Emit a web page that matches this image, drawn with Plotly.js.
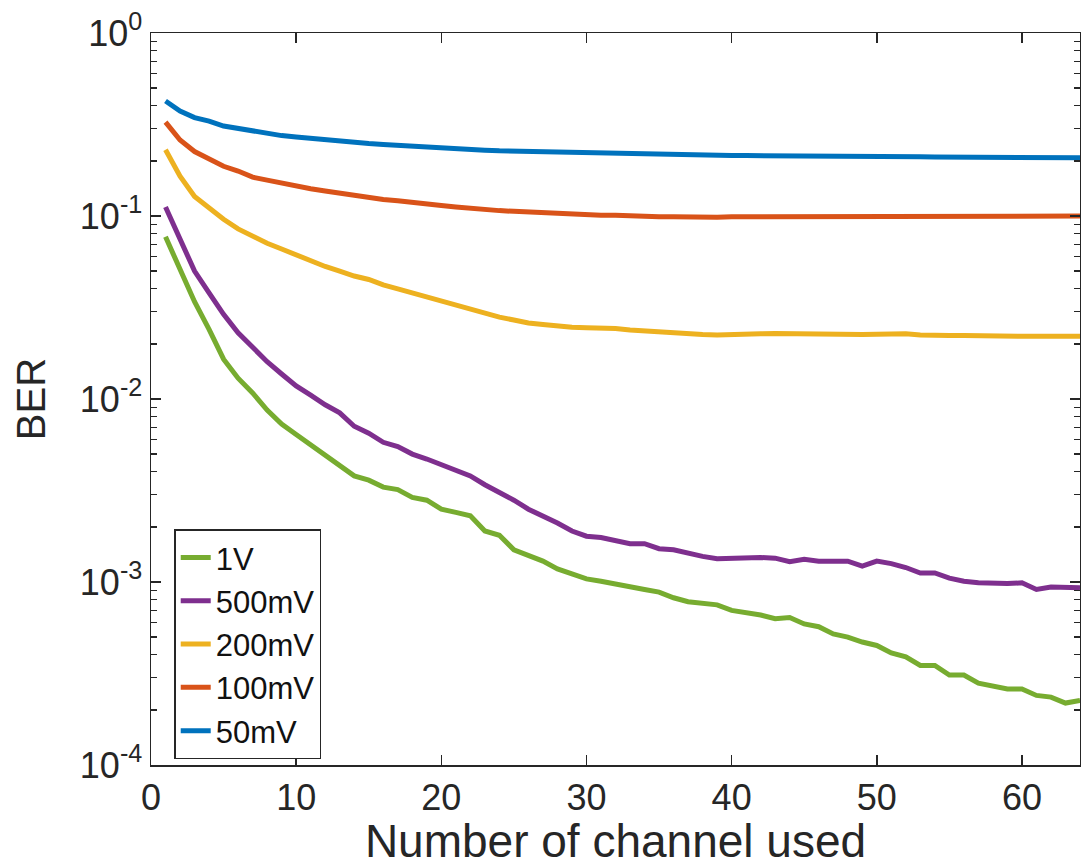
<!DOCTYPE html>
<html>
<head>
<meta charset="utf-8">
<script src="https://cdn.plot.ly/plotly-3.0.1.min.js"></script>
<style>
  html, body { margin: 0; padding: 0; background: #fff; }
  #chart { width: 1081px; height: 867px; }
</style>
</head>
<body>
<div id="chart"></div>
<script>
// Channel index
const channels = Array.from({length: 64}, (_, i) => i + 1);

const seriesNames = ["1V", "500mV", "200mV", "100mV", "50mV"];

const ber1V = [0.077, 0.052, 0.034, 0.024, 0.0165, 0.013, 0.0108, 0.0087, 0.0073, 0.0064,
  0.0056, 0.0049, 0.0043, 0.0038, 0.0036, 0.0033, 0.0032, 0.0029, 0.0028, 0.0025,
  0.0024, 0.0023, 0.0019, 0.0018, 0.0015, 0.0014, 0.0013, 0.00118, 0.0011, 0.00104,
  0.00101, 0.00098, 0.00094, 0.00091, 0.00088, 0.00082, 0.00078, 0.00077, 0.00075, 0.0007,
  0.00068, 0.00066, 0.00063, 0.00064, 0.00059, 0.00057, 0.00052, 0.0005, 0.00047, 0.00045,
  0.00041, 0.00039, 0.00035, 0.00035, 0.00031, 0.00031, 0.00028, 0.00027, 0.00026, 0.00026,
  0.00024, 0.000235, 0.000218, 0.000225];

const ber500mV = [0.112, 0.075, 0.05, 0.038, 0.029, 0.023, 0.019, 0.016, 0.0137, 0.0118,
  0.0105, 0.0093, 0.0084, 0.0071, 0.0065, 0.0058, 0.0055, 0.005, 0.0047, 0.0044,
  0.0041, 0.0038, 0.0034, 0.0031, 0.0028, 0.0025, 0.0023, 0.0021, 0.0019, 0.00178,
  0.00175, 0.00168, 0.00162, 0.00162, 0.00152, 0.0015, 0.00143, 0.00138, 0.00134, 0.00135,
  0.00135, 0.00136, 0.00135, 0.00129, 0.00133, 0.0013, 0.0013, 0.0013, 0.00122, 0.0013,
  0.00126, 0.0012, 0.00112, 0.00112, 0.00105, 0.00101, 0.00099, 0.00098, 0.00098, 0.00099,
  0.00091, 0.00094, 0.00093, 0.00093];

const ber200mV = [0.23, 0.165, 0.128, 0.11, 0.096, 0.085, 0.077, 0.071, 0.066, 0.061,
  0.057, 0.053, 0.05, 0.047, 0.045, 0.042, 0.04, 0.038, 0.036, 0.034,
  0.0325, 0.031, 0.0295, 0.028, 0.027, 0.026, 0.0255, 0.025, 0.0247, 0.0245,
  0.0245, 0.0243, 0.0238, 0.0235, 0.0232, 0.0228, 0.0226, 0.0225, 0.0224, 0.0226,
  0.0226, 0.0227, 0.0228, 0.0227, 0.0226, 0.0226, 0.0227, 0.0226, 0.0225, 0.0226,
  0.0227, 0.0227, 0.0224, 0.0222, 0.0222, 0.0222, 0.0221, 0.0221, 0.022, 0.022,
  0.022, 0.022, 0.0219, 0.022];

const ber100mV = [0.326, 0.26, 0.225, 0.205, 0.187, 0.176, 0.163, 0.157, 0.151, 0.147,
  0.141, 0.137, 0.133, 0.129, 0.126, 0.123, 0.121, 0.118, 0.116, 0.114,
  0.112, 0.11, 0.109, 0.107, 0.106, 0.105, 0.104, 0.103, 0.102, 0.102,
  0.101, 0.101, 0.1, 0.1, 0.099, 0.099, 0.0985, 0.0985, 0.0985, 0.099,
  0.099, 0.0988, 0.099, 0.0993, 0.0995, 0.0995, 0.0997, 0.0998, 0.1, 0.1,
  0.0998, 0.0997, 0.0995, 0.0995, 0.0993, 0.0995, 0.0998, 0.1, 0.1, 0.1,
  0.1, 0.1, 0.1, 0.1];

const ber50mV = [0.425, 0.375, 0.345, 0.33, 0.31, 0.3, 0.29, 0.282, 0.275, 0.27,
  0.265, 0.26, 0.256, 0.252, 0.249, 0.246, 0.243, 0.24, 0.238, 0.235,
  0.233, 0.231, 0.229, 0.227, 0.226, 0.225, 0.224, 0.223, 0.222, 0.222,
  0.221, 0.22, 0.219, 0.218, 0.217, 0.216, 0.216, 0.215, 0.215, 0.214,
  0.214, 0.214, 0.214, 0.214, 0.213, 0.213, 0.213, 0.213, 0.212, 0.212,
  0.212, 0.211, 0.211, 0.21, 0.21, 0.21, 0.209, 0.209, 0.209, 0.209,
  0.208, 0.208, 0.208, 0.208];

const seriesColors = ["#77AC30", "#7E2F8E", "#EDB120", "#D95319", "#0072BD"];

const xTickVals = [0, 10, 20, 30, 40, 50, 60];
const yTickVals = [1e-4, 1e-3, 1e-2, 1e-1, 1];
const yTickText = ["10<sup>-4</sup>", "10<sup>-3</sup>", "10<sup>-2</sup>", "10<sup>-1</sup>", "10<sup>0</sup>"];

const allSeries = [ber1V, ber500mV, ber200mV, ber100mV, ber50mV];

const traces = allSeries.map((vals, i) => ({
  x: channels,
  y: vals,
  type: "scatter",
  mode: "lines",
  name: seriesNames[i],
  line: {color: seriesColors[i], width: 5}
}));

const axisColor = "#262626";
const fontFamily = "Liberation Sans, Arial, Helvetica, sans-serif";

const layout = {
  width: 1081,
  height: 867,
  margin: {l: 151, r: 1, t: 33, b: 102, pad: 0},
  paper_bgcolor: "#ffffff",
  plot_bgcolor: "#ffffff",
  font: {family: fontFamily, color: axisColor, size: 36},
  showlegend: true,
  legend: {
    x: 0.025, y: 0.322, xanchor: "left", yanchor: "top",
    bgcolor: "#ffffff", bordercolor: axisColor, borderwidth: 1.5,
    font: {family: fontFamily, size: 31, color: "#111"},
    tracegroupgap: 0
  },
  xaxis: {
    range: [0, 64],
    tickmode: "array",
    tickvals: xTickVals,
    ticks: "inside",
    ticklen: 10,
    tickwidth: 1.5,
    tickcolor: axisColor,
    showline: true,
    linecolor: axisColor,
    linewidth: 1.5,
    mirror: "ticks",
    showgrid: false,
    zeroline: false,
    tickfont: {size: 36, color: axisColor},
    title: {text: "Number of channel used", font: {size: 46, color: axisColor}, standoff: 2}
  },
  yaxis: {
    type: "log",
    range: [-4, 0],
    tickmode: "array",
    tickvals: yTickVals,
    ticktext: yTickText,
    ticks: "inside",
    ticklen: 10,
    tickwidth: 1.5,
    tickcolor: axisColor,
    showline: true,
    linecolor: axisColor,
    linewidth: 1.5,
    mirror: "ticks",
    showgrid: false,
    zeroline: false,
    tickfont: {size: 36, color: axisColor},
    minor: {ticks: "inside", ticklen: 6, tickwidth: 1.2, tickcolor: axisColor, dtick: "D1", showgrid: false},
    title: {text: "BER", font: {size: 40, color: axisColor}, standoff: 22}
  }
};

Plotly.newPlot("chart", traces, layout, {displayModeBar: false, staticPlot: true});
</script>
</body>
</html>
